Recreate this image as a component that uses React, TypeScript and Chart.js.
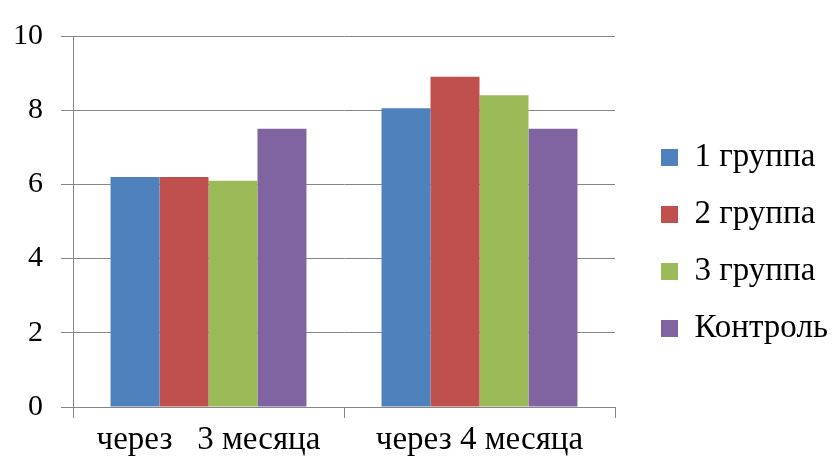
import React, { useEffect, useRef } from "react";
import { Chart, registerables } from "chart.js";

Chart.register(...registerables);

const categories = ["через   3 месяца", "через 4 месяца"];
const seriesNames = ["1 группа", "2 группа", "3 группа", "Контроль"];
const group1 = [6.2, 8.05];
const group2 = [6.2, 8.9];
const group3 = [6.1, 8.4];
const control = [7.5, 7.5];
const colors = ["#4F81BD", "#C0504D", "#9BBB59", "#8064A2"];
const yTicks = [0, 2, 4, 6, 8, 10];

const FONT = '"Liberation Serif", "Times New Roman", Tinos, serif';
const GRID = "#868686";

export default function App() {
  const ref = useRef<HTMLCanvasElement | null>(null);

  useEffect(() => {
    let chart: any = null;
    let cancelled = false;
    const values = [group1, group2, group3, control];
    const layoutPlugin = {
      id: "legendPlace",
      beforeLayout(c: any) {
        const lg = c.legend;
        if (lg && !lg.__patched) {
          const orig = lg.fit.bind(lg);
          lg.fit = function () {
            orig();
            this.width = 217;
          };
          lg.__patched = true;
        }
      },
      afterLayout(c: any) {
        const lg = c.legend;
        if (lg) {
          lg.left += 22;
          lg.right += 22;
          lg.top -= 1;
          lg.bottom -= 1;
        }
      },
    };
    const make = () => {
      if (cancelled || !ref.current) return;
      chart = new Chart(ref.current, {
        type: "bar",
        data: {
          labels: categories,
          datasets: seriesNames.map((name, i) => ({
            label: name,
            data: values[i],
            backgroundColor: colors[i],
            borderWidth: 0,
            barPercentage: 1,
            categoryPercentage: 0.723,
          })),
        },
        options: {
          responsive: false,
          animation: false,
          devicePixelRatio: 1,
          layout: { padding: { top: 27, left: 0, right: 0, bottom: 0 } },
          plugins: {
            tooltip: { enabled: false },
            legend: {
              position: "right",
              labels: {
                boxWidth: 17,
                boxHeight: 17,
                padding: 24,
                color: "#000",
                font: { family: FONT, size: 33 },
              },
            },
          },
          scales: {
            x: {
              offset: true,
              grid: {
                display: true,
                drawOnChartArea: false,
                drawTicks: true,
                tickLength: 11,
                offset: true,
                color: GRID,
              },
              border: { display: true, color: GRID },
              ticks: {
                color: "#000",
                font: { family: FONT, size: 33 },
                padding: 3,
                maxRotation: 0,
                autoSkip: false,
              },
              afterFit: (s: any) => {
                s.height = 54;
              },
            },
            y: {
              min: 0,
              max: 10,
              afterBuildTicks: (s: any) => {
                s.ticks = yTicks.map((v) => ({ value: v }));
              },
              ticks: {
                color: "#000",
                font: { family: FONT, size: 30 },
                padding: 18,
              },
              grid: { color: GRID, tickLength: 12, drawTicks: true },
              border: { display: true, color: GRID },
              afterFit: (s: any) => {
                s.width = 73;
              },
            },
          },
        },
        plugins: [layoutPlugin],
      });
    };
    const fonts: any = (document as any).fonts;
    if (fonts && fonts.load) {
      Promise.all([
        fonts.load('33px "Liberation Serif"'),
        fonts.load('33px "Liberation Serif"', "через группа Контроль"),
      ]).then(make, make);
    } else {
      make();
    }
    return () => {
      cancelled = true;
      if (chart) chart.destroy();
    };
  }, []);

  return (
    <div style={{ position: "absolute", left: 0, top: 0, width: 832, height: 461, background: "#fff", fontFamily: FONT }}>
      <canvas ref={ref} width={832} height={461} style={{ display: "block" }} />
    </div>
  );
}
